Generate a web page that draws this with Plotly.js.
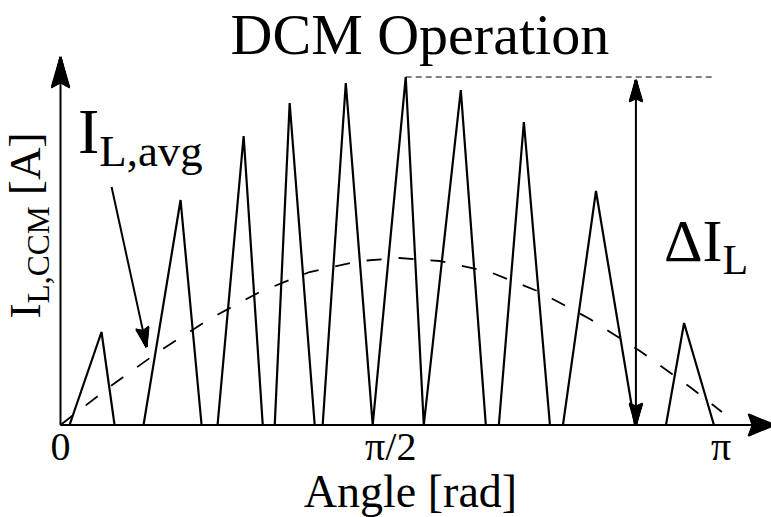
<!DOCTYPE html>
<html><head><meta charset="utf-8">
<script src="https://cdn.plot.ly/plotly-3.0.1.min.js"></script>
<style>html,body{margin:0;padding:0;background:#fff}#chart{width:771px;height:517px}</style>
</head><body><div id="chart"></div>
<script>
const PI = Math.PI;
// Inductor current in DCM (triangular pulses), x in rad, y in A (arbitrary units)
const iL_x = [0, 0.043, 0.195, 0.257, 0.395, 0.571, 0.671, 0.747, 0.871, 0.962, 1.019, 1.090, 1.209, 1.247, 1.357, 1.485, 1.642, 1.728, 1.904, 2.023, 2.085, 2.204, 2.328, 2.390, 2.547, 2.732, 2.880, 2.966, 3.108, 3.15];
const iL_y = [0, 0, 0.93, 0, 0, 2.25, 0, 0, 2.89, 0, 0, 3.22, 0, 0, 3.42, 0, 3.48, 0, 3.35, 0, 0, 3.03, 0, 0, 2.34, 0, 0, 1.02, 0, 0];
// Average inductor current (dashed)
const avg_x = [0, 0.233, 0.471, 0.709, 0.947, 1.185, 1.423, 1.614, 1.804, 2.042, 2.280, 2.518, 2.756, 2.994, 3.146];
const avg_y = [0, 0.38, 0.74, 1.06, 1.33, 1.53, 1.64, 1.67, 1.64, 1.53, 1.33, 1.06, 0.74, 0.38, 0.13];
// Tick labels
const tick_vals = [0, PI / 2, PI];
const tick_text = ['0', 'π/2', 'π'];
// Annotation geometry (data units)
const peak_ref_x = [1.642, 3.099];          // dashed reference line at the peak
const delta_x = 2.737;                        // ΔI_L double arrow position
const delta_y = [0, 3.45];
const avgArrow_x = [0.243, 0.409];
const avgArrow_y = [2.38, 0.78];
const x_range = [-0.05, 3.3795], y_range = [-0.12, 4.11];
const x_arrow_tip = 3.394, y_arrow_tip = 3.68;

const FONT = 'Liberation Serif';
const peak = Math.max(...iL_y);
const M = {l: 50, r: 0, t: 14, b: 80};
const sx = (771 - M.l - M.r) / (x_range[1] - x_range[0]);
const sy = (517 - M.t - M.b) / (y_range[1] - y_range[0]);

// solid notched arrowhead: a filled shape plus a dense fan of strokes from the tip
function head(tip, from, len, hw, notch) {
  const dxp = (tip[0] - from[0]) * sx, dyp = (tip[1] - from[1]) * sy;
  const L = Math.hypot(dxp, dyp), ux = dxp / L, uy = dyp / L, nx = -uy, ny = ux;
  const d = (px, py) => [tip[0] + px / sx, tip[1] + py / sy];
  const bx = -ux * len, by = -uy * len;
  const left = [bx + nx * hw, by + ny * hw], right = [bx - nx * hw, by - ny * hw];
  const nk = [-ux * (len - notch), -uy * (len - notch)];
  const pts = [d(0, 0), d(left[0], left[1]), d(nk[0], nk[1]), d(right[0], right[1])];
  const path = 'M' + pts.map(p => p[0].toFixed(5) + ',' + p[1].toFixed(5)).join('L') + 'Z';
  const fx = [], fy = [], n = 16;
  for (let i = 0; i <= n; i++) {
    const t = i / n;
    let p;
    if (t <= 0.5) { const s = t * 2; p = [left[0] + (nk[0] - left[0]) * s, left[1] + (nk[1] - left[1]) * s]; }
    else { const s = (t - 0.5) * 2; p = [nk[0] + (right[0] - nk[0]) * s, nk[1] + (right[1] - nk[1]) * s]; }
    const q = d(p[0] * 0.97, p[1] * 0.97);
    fx.push(tip[0], q[0], null); fy.push(tip[1], q[1], null);
  }
  return {shape: {type: 'path', xref: 'x', yref: 'y', path: path, fillcolor: 'rgb(0,0,0)', opacity: 1,
    line: {width: 1, color: 'rgb(0,0,0)'}, layer: 'above'},
    fan: {x: fx, y: fy, type: 'scatter', mode: 'lines', connectgaps: false, line: {color: '#000', width: 2},
      showlegend: false, hoverinfo: 'skip'},
    neck: pts[2]};
}
function line(xs, ys, w) {
  return {x: xs, y: ys, type: 'scatter', mode: 'lines', line: {color: '#000', width: w}, cliponaxis: false, showlegend: false, hoverinfo: 'skip'};
}

const hUp = head([delta_x, delta_y[1]], [delta_x, delta_y[0]], 22, 6.5, 3);
const hDn = head([delta_x, delta_y[0]], [delta_x, delta_y[1]], 22, 6.5, 3);
const hAvg = head([avgArrow_x[1], avgArrow_y[1]], [avgArrow_x[0], avgArrow_y[0]], 20, 6.5, 3);
const hY = head([0, y_arrow_tip], [0, 0], 31, 9, 5);
const hX = head([x_arrow_tip, 0], [0, 0], 26, 11, 4);
const heads = [hUp, hDn, hAvg, hY, hX];

const traces = [
  line([0, hX.neck[0]], [0, 0], 2),
  line([0, 0], [0, hY.neck[1]], 2),
  line(iL_x, iL_y, 2.2),
  {x: avg_x, y: avg_y, type: 'scatter', mode: 'lines', line: {color: '#000', width: 1.8, dash: '15px,17px'}, cliponaxis: false, showlegend: false, hoverinfo: 'skip'},
  {x: peak_ref_x, y: [peak, peak], type: 'scatter', mode: 'lines', line: {color: '#000', width: 1, dash: '6px,4px'}, cliponaxis: false, showlegend: false, hoverinfo: 'skip'},
  line([hDn.neck[0], hUp.neck[0]], [hDn.neck[1], hUp.neck[1]], 2),
  line([avgArrow_x[0], hAvg.neck[0]], [avgArrow_y[0], hAvg.neck[1]], 2)
].concat(heads.map(h => h.fan));

const layout = {
  width: 771, height: 517,
  margin: M,
  paper_bgcolor: '#fff', plot_bgcolor: '#fff',
  font: {family: FONT, color: '#000'},
  title: {text: 'DCM Operation', font: {family: FONT, size: 58, color: '#000'}, xref: 'paper', x: 0.513, xanchor: 'center', yref: 'container', y: 0.935, yanchor: 'middle'},
  xaxis: {range: x_range, showline: false, showgrid: false, zeroline: false,
    ticks: '', tickvals: tick_vals, ticktext: tick_text, tickfont: {family: FONT, size: 40, color: '#000'},
    ticklabelstandoff: -18,
    title: {text: 'Angle [rad]', font: {family: FONT, size: 46, color: '#000'}, standoff: 0}},
  yaxis: {range: y_range, showline: false, showgrid: false, zeroline: false,
    ticks: '', showticklabels: false,
    title: {text: 'I<sub>L,CCM</sub> [A]', font: {family: FONT, size: 45, color: '#000'}, standoff: 0}},
  shapes: heads.map(h => h.shape),
  annotations: [
    {x: 0.075, y: 2.89, xref: 'x', yref: 'y', xanchor: 'left', yanchor: 'middle', showarrow: false,
     text: 'I<sub>L,avg</sub>', font: {family: FONT, size: 64, color: '#000'}},
    {x: 2.86, y: 1.8, xref: 'x', yref: 'y', xanchor: 'left', yanchor: 'middle', showarrow: false,
     text: 'ΔI<sub>L</sub>', font: {family: FONT, size: 60, color: '#000'}}
  ],
  hovermode: false, showlegend: false
};

Plotly.newPlot('chart', traces, layout, {displayModeBar: false, staticPlot: true});
</script></body></html>
